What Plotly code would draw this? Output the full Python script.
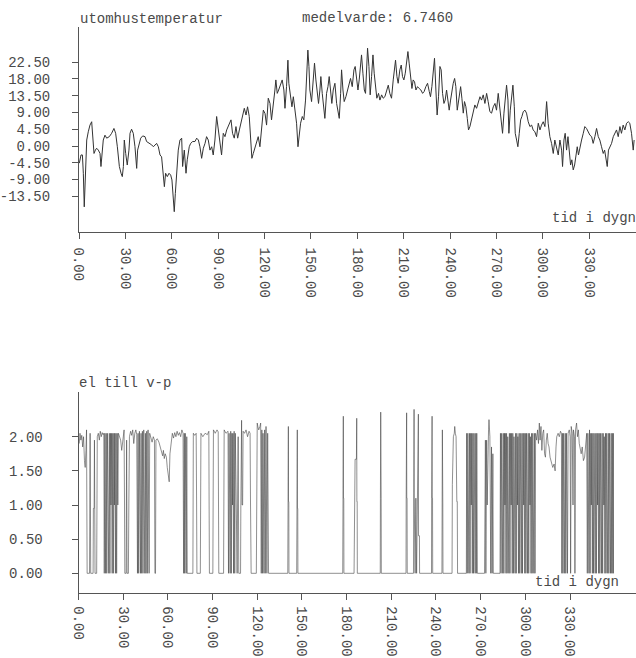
import plotly.graph_objects as go

# ---------------- data: outdoor temperature (day, deg C) ----------------
temp_jan_apr = [
    (0.2,-4.6),(1.3,-2.4),(2.2,-2.4),(2.8,-7.3),(3.4,-16.3),(4.3,-8.2),(5.0,1.6),(6.0,3.8),
    (7.1,5.6),(8.2,6.5),(8.8,3.4),(9.7,-2.0),(10.6,-1.1),(11.4,-0.6),(12.5,-1.1),(13.6,-2.0),
    (14.2,-5.5),(15.1,-1.1),(15.7,1.6),(16.8,2.9),(17.9,2.1),(19.6,2.5),(21.1,3.4),(22.6,4.7),
    (23.7,3.4),(24.8,-0.2),(26.1,-5.5),(27.2,-7.3),(28.0,-8.2),(28.7,-5.5),(29.3,1.6),(30.2,-2.0),
    (31.2,-5.1),(32.3,-1.1),(33.0,3.4),(34.0,4.5),(35.1,3.4),(36.2,-0.2),(36.9,-4.6),(37.3,-6.0),
    (37.9,-1.1),(38.8,0.7),(39.9,2.1),(41.2,2.7),(42.7,2.5),(43.7,1.2),(44.8,0.9),(45.9,0.7),
    (47.0,0.3),(48.1,-0.2),(49.1,0.3),(50.2,0.7),(51.3,-0.2),(52.4,-2.4),(53.4,-2.9),(54.5,-7.3),
    (55.2,-10.9),(56.0,-7.3),(57.1,-8.2),(58.2,-7.3),(59.3,-7.8),(60.1,-9.1),(61.0,-13.6),(61.6,-17.6),
    (62.3,-12.7),(63.1,-7.3),(64.2,-1.1),(65.3,1.6),(66.4,2.1),(67.0,-5.5),(68.1,-1.1),(69.2,-7.3),
    (70.0,-3.7),(71.3,-0.2),(72.2,0.7),(73.5,1.2),(75.0,1.2),(76.1,2.1),(77.2,1.6),(78.2,-0.2),
    (79.3,-3.3),(80.4,-0.6),(81.5,0.7),(82.5,2.5),(83.6,1.6),(84.7,-1.1),(85.8,-0.2),(86.8,-2.4),
    (87.9,1.6),(89.0,7.9),(90.1,4.3),(91.2,1.6),(92.2,-2.4),(93.3,3.4),(94.4,2.5),(95.5,4.3),
    (97.2,6.1),(98.3,7.0),(99.3,3.4),(100.4,2.1),(101.5,5.2),(102.6,2.1),(103.7,4.3),(104.7,6.1),
    (105.8,7.9),(106.9,10.1),(108.0,8.3),(109.0,10.5),(110.1,7.9),(111.0,2.5),(111.8,-3.3),(112.7,-2.0),
    (113.8,-0.2),(114.9,1.6),(115.9,2.5),(117.0,-0.2),(118.1,5.2),(119.2,9.6),(120.3,8.7),(121.3,5.6),
    (122.4,12.8),
]
temp_may_aug = [
    (123.5,11.4),(124.5,7.0),(125.6,10.5),(126.7,15.0),(127.3,17.7),(128.2,14.1),(129.1,15.0),(130.4,16.3),
    (131.4,17.7),(132.5,15.0),(133.2,10.1),(134.2,15.9),(135.1,23.0),(135.7,16.8),(136.8,13.2),(137.7,10.5),
    (138.6,13.2),(139.6,9.6),(140.7,6.1),(141.6,-0.2),(142.4,2.5),(143.3,6.1),(144.4,7.9),(145.4,7.0),
    (146.5,12.3),(147.4,20.4),(148.0,25.7),(148.7,21.3),(149.3,15.0),(150.4,11.9),(151.5,18.6),(152.3,22.2),
    (153.2,17.7),(154.1,14.1),(154.9,11.4),(155.8,15.0),(156.4,18.6),(157.3,14.1),(158.4,10.5),(159.0,7.4),
    (160.1,14.1),(161.0,15.9),(161.8,18.6),(162.7,15.0),(163.5,11.4),(164.4,15.0),(165.5,16.8),(166.6,11.4),
    (167.4,9.6),(168.3,7.4),(169.2,14.1),(169.8,20.4),(170.7,15.0),(171.5,11.9),(172.6,13.2),(173.7,15.0),
    (174.8,16.8),(175.6,18.1),(176.7,15.9),(177.8,20.4),(178.6,21.3),(179.5,18.6),(180.4,15.0),(181.2,17.7),
    (182.1,23.0),(182.7,24.4),(183.6,19.5),(184.5,15.0),(185.3,14.1),(186.0,21.3),(186.6,26.2),(187.5,21.3),
    (188.3,13.7),(189.2,18.6),(190.1,24.4),(190.9,19.5),(191.8,15.9),(192.6,12.8),(193.7,14.1),(194.6,12.3),
    (195.7,13.7),(196.7,12.8),(197.8,13.2),(198.9,15.0),(200.0,16.3),(201.0,14.1),(202.1,12.8),(203.2,17.7),
    (204.1,21.3),(204.7,23.0),(205.6,18.6),(206.4,16.8),(207.5,20.4),(208.4,21.7),(209.2,18.6),(210.1,17.7),
    (211.0,19.5),(211.8,22.2),(212.7,25.3),(213.5,22.2),(214.4,18.6),(215.3,15.4),(216.1,17.7),(217.0,17.2),
    (217.9,15.0),(218.9,15.9),(220.0,15.4),(221.1,15.0),(222.2,14.1),(223.2,14.6),(224.3,15.9),(225.4,16.8),
    (226.5,14.6),(227.3,13.2),(228.2,15.9),(229.1,19.5),(229.9,23.5),(230.8,15.0),(231.6,8.3),(232.5,13.2),
    (233.4,21.3),(234.2,20.4),(235.1,14.1),(236.0,11.4),(236.8,12.3),(237.7,15.0),(238.5,12.8),(239.4,9.6),
    (240.3,12.3),(241.1,15.0),(242.0,16.8),(242.9,18.1),(243.7,15.9),(244.6,9.6),(245.4,12.3),
]
temp_sep_dec = [
    (245.9,14.1),(246.8,15.9),(247.6,12.8),(248.5,8.8),(249.3,11.9),(250.2,10.5),(251.1,7.4),(251.9,4.3),
    (252.8,5.2),(253.9,7.0),(254.9,9.2),(256.0,11.0),(257.1,10.1),(258.2,11.4),(259.3,13.2),(260.3,12.3),
    (261.4,13.7),(262.5,11.4),(263.6,14.1),(264.6,11.9),(265.7,9.2),(266.8,8.8),(267.9,10.5),(269.0,11.4),
    (270.0,9.6),(271.1,14.1),(272.2,10.5),(273.1,6.1),(273.9,3.4),(274.8,8.8),(275.6,13.2),(276.5,16.3),
    (277.4,12.3),(278.0,3.4),(278.9,9.6),(279.7,13.2),(280.6,16.3),(281.5,10.5),(282.1,3.4),(283.0,1.6),
    (283.8,-0.2),(284.7,3.4),(285.6,7.0),(286.4,7.9),(287.3,9.2),(288.4,9.6),(289.4,8.8),(290.5,6.5),
    (291.6,5.2),(292.7,5.6),(293.7,4.3),(294.8,3.8),(295.9,2.5),(297.0,6.1),(298.1,4.3),(299.1,5.6),
    (300.2,6.5),(301.3,5.2),(302.4,11.9),(303.4,6.1),(304.5,2.5),(305.6,0.7),(306.7,-2.0),(307.7,1.6),
    (308.8,-0.2),(309.9,-2.4),(311.0,1.6),(312.1,-1.1),(312.7,-5.5),(313.6,1.6),(314.4,3.4),(315.3,-1.1),
    (316.2,2.5),(317.0,-2.4),(317.9,-5.1),(318.7,-3.7),(319.6,-6.4),(320.5,-5.1),(321.3,-2.0),(322.2,-0.2),
    (323.0,-2.4),(323.9,-0.2),(325.0,1.6),(326.1,3.4),(327.1,5.2),(328.2,4.7),(329.3,3.8),(330.4,2.9),
    (331.5,2.5),(332.5,0.7),(333.6,2.5),(334.7,4.7),(335.8,2.5),(336.8,1.6),(337.9,-0.2),(339.0,-2.0),
    (339.9,-1.1),(340.7,-2.9),(341.6,-5.5),(342.4,-1.1),(343.3,-0.2),(344.4,0.7),(345.5,2.5),(346.5,3.4),
    (347.6,4.3),(348.7,2.5),(349.8,5.2),(350.8,3.4),(351.9,5.6),(353.0,4.3),(354.1,6.1),(355.2,6.5),
    (356.2,6.1),(357.3,3.4),(358.4,-1.1),(359.0,1.6),
]

# ---------------- data: electricity to heat pump (day, value) ----------------
el_jan_may = [
    (0.5,1.9),(1.0,2.05),(1.6,1.95),(2.2,2.02),(2.8,1.85),(3.4,2.0),(4.0,1.65),(4.5,1.55),(5.0,1.8),
    (5.4,2.1),(5.6,1.0),(5.8,0.0),(7.4,0.0),(7.6,1.0),(7.8,2.05),(8.0,1.0),(8.2,0.0),(9.8,0.0),
    (10.0,0.95),(10.5,0.95),(10.7,1.95),(10.9,1.0),(11.1,0.0),(12.2,0.0),(12.4,1.0),(12.6,2.0),
    (13.3,2.05),(14.0,1.95),(14.6,2.08),(15.3,2.0),(15.9,2.06),(16.5,2.03),(17.0,2.05),
    (17.3,0),(17.7,2.05),(18.0,1.0),(18.2,0),(18.6,2.05),(19.0,0),(19.4,2.05),(19.7,1.0),(19.9,2.05),
    (20.3,0),(20.7,2.05),(21.1,0),(21.5,2.05),(21.8,1.0),(22.2,2.05),(22.6,0),(23.0,2.05),(23.4,0),
    (23.8,2.05),(24.1,1.0),(24.4,2.05),(24.8,0),(25.2,2.05),(25.6,0),(26.0,2.05),(26.4,1.0),(26.8,2.05),
    (27.5,2.0),(28.3,1.95),(29.0,1.8),(29.6,1.9),(30.3,2.05),(30.6,2.1),
    (30.9,1.0),(31.1,0),(32.0,0),(32.3,1.95),(32.6,0),(33.5,0),(33.8,1.0),(34.2,2.0),
    (35.0,2.08),(35.7,2.02),(36.4,2.1),(37.1,1.9),(37.8,2.05),(38.5,2.1),(39.1,2.03),
    (39.6,0),(40.0,2.05),(40.4,0),(40.9,2.08),(41.3,1.0),(41.6,0),(42.0,2.05),(42.4,0),(42.9,2.08),
    (43.3,0),(43.8,2.1),(44.2,1.0),(44.5,0),(44.9,2.05),(45.3,0),(45.8,2.08),(46.2,0),(46.7,2.1),
    (47.1,1.0),(47.4,0),(47.8,2.05),
    (48.5,2.0),(49.4,1.92),(50.2,2.0),(51.0,1.95),(51.3,0.0),(51.7,0.0),(52.0,1.95),(52.9,1.97),
    (54.0,1.92),(55.0,1.85),(55.8,1.8),(56.5,1.72),(57.0,1.8),(57.6,1.68),(58.2,1.75),(59.0,1.7),
    (59.6,1.55),(60.3,1.45),(60.9,1.34),(61.4,1.75),(62.2,1.95),(63.0,2.05),(63.8,1.98),(64.6,2.06),
    (65.4,2.0),(66.2,2.08),(67.0,2.02),(67.8,2.06),(68.6,2.0),(69.4,2.1),(70.2,2.05),
    (70.6,0),(71.0,2.05),(71.3,0),(71.7,2.05),(72.0,1.0),(72.3,0),(72.7,2.0),(73.0,0),
    (76.8,0),(77.1,2.05),(78.0,2.02),(79.0,2.05),(79.3,1.0),(79.5,0),(81.8,0),(82.0,1.0),(82.2,2.05),
    (83.5,2.0),(85.0,2.05),(86.5,2.03),(87.5,2.08),(87.7,1.0),(87.9,0),(90.2,0),(90.4,1.0),(90.6,2.1),
    (91.8,2.05),(93.0,2.1),(93.8,2.07),(94.0,1.0),(94.2,0),(97.4,0),(97.6,1.0),(97.8,2.1),
    (99.0,2.05),(100.4,2.08),
    (100.7,0),(101.1,2.05),(101.5,1.0),(101.8,0),(102.2,2.08),(102.6,0),(103.0,2.05),(103.4,1.0),
    (103.7,2.05),(104.1,0),(104.5,2.08),(104.9,0),(105.3,2.05),(105.7,1.0),(106.1,0),(106.5,0),
    (106.8,1.0),(107.2,2.0),(107.6,0),(108.8,0),(109.0,1.0),(109.5,2.24),(109.8,1.0),(110.2,1.0),
    (110.5,2.08),(111.5,2.05),(112.5,2.1),(113.5,2.0),(114.5,2.08),(115.2,2.05),(115.5,1.0),(115.9,0),
    (119.4,0),(119.6,1.0),(120.0,2.2),(120.4,2.15),(121.0,2.1),(121.8,2.15),(122.3,2.2),(122.5,1.0),
    (122.7,0),(123.1,2.1),(123.5,0),(123.9,2.05),(124.2,1.0),(124.5,0),(125.0,2.1),(125.4,0),
    (125.9,2.15),(126.2,1.0),(126.5,0),(127.0,2.05),(127.4,0),
]
el_jun_aug = [
    (140.5,0),(140.6,1.05),(140.9,2.15),(141.0,1.05),(141.2,1.05),(141.3,0),
    (146.5,0),(146.6,0.95),(146.9,2.1),(147.0,0.95),(147.2,0.95),(147.3,0),
    (177.4,0),(177.5,1.1),(177.8,2.3),(177.9,1.1),(178.1,1.1),(178.2,0),
    (185.0,0),(185.1,0.55),(185.6,0.55),(185.7,1.67),(186.6,1.67),(186.8,2.27),(186.9,1.05),
    (187.1,1.05),(187.2,0),
    (202.6,0),(202.7,1.1),(202.9,2.36),(203.0,1.1),(203.2,1.1),(203.3,0),
    (219.9,0),(220.0,1.1),(220.3,2.35),(220.4,1.1),(220.6,1.1),(220.7,0),
    (224.9,0),(225.0,1.1),(225.3,2.4),(225.4,1.1),(226.0,0),(226.5,1.1),(227.0,0),(227.5,1.1),
    (228.2,2.33),(228.3,0.55),(228.9,0.55),(229.0,0),
    (237.0,0),(237.1,1.1),(237.4,2.3),(237.5,1.1),(237.7,1.1),(237.8,0),
    (244.0,0),(244.1,1.0),(244.3,2.1),(244.4,1.0),(244.6,1.0),(244.7,0),
]
el_sep_dec = [
    (250.8,0),(251.0,1.3),(251.7,2.0),(252.3,2.05),(252.6,2.15),(253.0,2.05),(253.5,2.0),(254.0,1.05),
    (254.3,1.05),(254.5,0),
    (260.4,0),(260.6,2.05),(261.0,0),(261.4,2.05),(261.8,1.0),(262.1,0),(262.5,2.05),(262.9,0),
    (263.3,2.05),(263.7,1.0),(264.0,2.05),(264.4,0),(264.8,2.05),(265.2,0),(265.6,2.05),(266.0,1.0),
    (266.3,0),(266.7,2.05),(267.1,0),(267.4,2.05),(267.6,1.0),(267.8,0),
    (272.6,0),(272.8,1.1),(273.2,1.95),(273.5,0),(274.0,1.95),(274.4,1.0),(274.8,2.05),(275.3,2.1),
    (275.6,2.25),(275.9,2.05),(276.2,2.0),(276.5,1.0),(276.8,0),(277.3,1.85),(277.7,0),(278.2,1.75),
    (278.5,0),
    (283.0,0),(283.3,2.05),(283.7,0),(284.1,2.05),(284.5,1.0),(284.8,0),(285.2,2.05),(285.6,0),
    (286.0,2.05),(286.3,1.0),(286.6,2.05),(287.0,0),(287.4,2.05),(287.8,0),(288.2,2.0),(288.6,1.0),
    (288.9,0),(289.3,2.05),(289.7,0),(290.1,2.05),(290.5,1.0),(290.8,2.05),(291.2,0),(291.6,2.05),
    (292.0,0),(292.4,2.0),(292.8,1.0),(293.1,0),(293.5,2.05),(293.9,0),(294.3,2.05),(294.7,1.0),
    (295.0,2.0),(295.4,0),(295.8,2.05),(296.2,0),(296.6,2.05),(297.0,1.0),(297.3,0),(297.7,2.05),
    (298.1,0),(298.5,2.05),(298.9,1.0),(299.2,2.05),(299.6,0),(300.0,2.05),(300.4,0),(300.8,2.05),
    (301.2,1.0),(301.5,0),(301.9,2.05),(302.3,0),(302.7,2.05),(303.1,1.0),(303.4,2.0),(303.8,0),
    (304.2,2.05),(304.6,0),(305.0,2.05),(305.4,1.0),(305.7,0),(306.1,2.05),(306.5,0),(306.9,2.05),
    (307.6,1.95),(308.2,2.1),(308.8,1.9),(309.4,2.2),(309.9,1.95),(310.5,2.15),(311.1,1.8),(311.7,2.05),
    (312.3,2.1),(312.9,1.75),(313.5,1.7),(314.1,1.95),(314.7,2.05),(315.3,1.9),(315.9,1.85),(316.6,1.7),
    (317.5,1.6),(318.4,1.55),(319.3,1.6),(320.0,1.5),(320.6,1.85),(321.1,2.0),(322.0,2.05),(322.8,2.0),
    (323.6,2.08),(324.2,2.05),
    (324.5,0),(324.9,2.05),(325.3,0),(325.7,2.05),(326.1,1.0),(326.4,0),(326.8,2.05),(327.2,0),
    (327.6,2.05),(328.0,1.0),(328.3,0),(328.7,2.05),
    (329.5,2.1),(330.1,2.0),(330.4,0),(330.8,2.15),(331.5,2.05),(332.0,1.0),(332.3,2.1),(333.0,2.0),
    (333.3,0),(333.7,2.1),(334.4,2.2),(335.0,2.0),(335.6,2.1),(336.2,1.9),
    (336.8,1.8),(337.5,1.75),(338.2,1.85),(339.0,1.65),(339.8,1.7),(340.5,1.85),(341.2,2.05),
    (341.6,0),(342.0,2.05),(342.4,1.0),(342.7,0),(343.1,2.1),(343.5,0),(343.9,2.05),(344.3,1.0),
    (344.6,2.05),(345.0,0),(345.4,2.05),(345.8,0),(346.2,2.05),(346.6,1.0),(346.9,0),(347.3,2.05),
    (347.7,0),(348.1,2.05),(348.5,1.0),(348.8,2.05),(349.2,0),(349.6,2.05),(350.0,0),(350.4,2.05),
    (350.8,1.0),(351.1,0),(351.5,2.05),(351.9,0),(352.3,2.05),(352.7,1.0),(353.0,2.0),(353.4,0),
    (353.8,2.05),(354.2,0),(354.6,2.05),(355.0,1.0),(355.3,0),(355.7,2.05),(356.1,0),(356.5,2.05),
    (356.9,1.0),(357.2,0),(357.6,2.05),(358.0,0),(358.4,2.05),(358.8,0),(359.1,2.05),(359.2,0),
]

x_ticks = [0, 30, 60, 90, 120, 150, 180, 210, 240, 270, 300, 330]
x_tick_text = ["%.2f" % v for v in x_ticks]
temp_ticks = [22.5, 18.0, 13.5, 9.0, 4.5, 0.0, -4.5, -9.0, -13.5]
temp_tick_text = ["22.50", "18.00", "13.50", "9.00", "4.50", "0.00", "-4.50", "-9.00", "-13.50"]
el_ticks = [2.0, 1.5, 1.0, 0.5, 0.0]
el_tick_text = ["2.00", "1.50", "1.00", "0.50", "0.00"]

top_title = "utomhustemperatur"
mean_text = "medelvarde: 6.7460"
x_title = "tid i dygn"
bottom_title = "el till v-p"

# ---------------- figure ----------------
W, H = 636, 658
FONT = "Liberation Mono, DejaVu Sans Mono, monospace"
INK = "#4a4a4a"
LINE = "#333333"

temp_pts = temp_jan_apr + temp_may_aug + temp_sep_dec
el_pts = el_jan_may + [(127.6, 0)] + el_jun_aug + el_sep_dec

fig = go.Figure()
fig.add_trace(go.Scatter(x=[p[0] for p in temp_pts], y=[p[1] for p in temp_pts],
                         mode="lines", line=dict(color=LINE, width=1), xaxis="x", yaxis="y",
                         showlegend=False, hoverinfo="skip"))
fig.add_trace(go.Scatter(x=[p[0] for p in el_pts], y=[p[1] for p in el_pts],
                         mode="lines", line=dict(color="#454545", width=0.6), xaxis="x2", yaxis="y2",
                         showlegend=False, hoverinfo="skip"))

def px_x(px):
    return px / W

def px_y(py):
    return 1 - py / H

axis_common = dict(showgrid=False, zeroline=False, showline=True, linecolor="#555555",
                   linewidth=1, ticks="outside", ticklen=6, tickcolor="#555555", tickwidth=1,
                   automargin=False,
                   tickfont=dict(family=FONT, size=14, color=INK), fixedrange=True)

fig.update_layout(
    width=W, height=H, margin=dict(l=0, r=0, t=0, b=0, autoexpand=False),
    paper_bgcolor="white", plot_bgcolor="white",
    xaxis=dict(axis_common, domain=[px_x(79), 1], range=[0, 360.2], anchor="y",
               tickvals=x_ticks, ticktext=x_tick_text, tickangle=90, ticklabelstandoff=6),
    yaxis=dict(axis_common, domain=[px_y(231.7), px_y(27)], range=[-22.96, 31.88], anchor="x",
               tickvals=temp_ticks, ticktext=temp_tick_text, ticklabelstandoff=19),
    xaxis2=dict(axis_common, domain=[px_x(78.5), 1], range=[0, 374.3], anchor="y2",
                tickvals=x_ticks, ticktext=x_tick_text, tickangle=90, ticklabelstandoff=4),
    yaxis2=dict(axis_common, domain=[px_y(592.5), px_y(391.7)], range=[-0.281, 2.659], anchor="x2",
                tickvals=el_ticks, ticktext=el_tick_text, ticklabelstandoff=26),
)

def label(text, x, y):
    fig.add_annotation(text=text, xref="paper", yref="paper", x=px_x(x), y=px_y(y),
                       xanchor="left", yanchor="middle", showarrow=False,
                       font=dict(family=FONT, size=14, color=INK))

label(top_title, 78, 19)
label(mean_text, 300, 18)
label(x_title, 550, 218)
label(bottom_title, 77, 383)
label(x_title, 533, 582)

fig.write_html("out.html", config={"displayModeBar": False},
               post_script="document.body.style.margin='0';document.body.style.padding='0';"
                           "document.documentElement.style.overflow='hidden';")
